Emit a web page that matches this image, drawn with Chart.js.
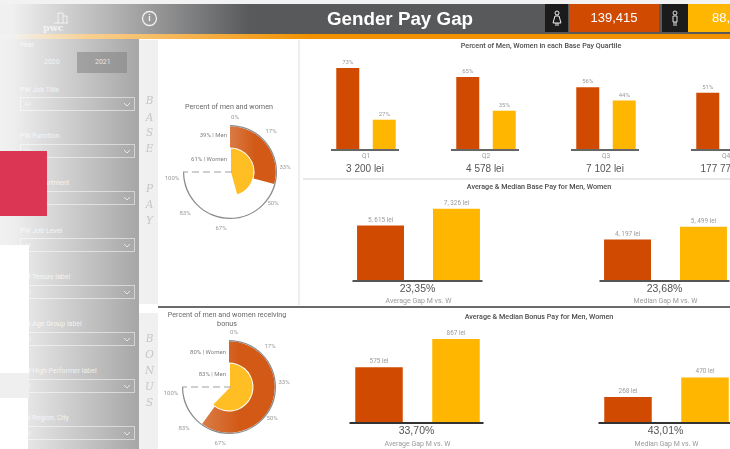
<!DOCTYPE html>
<html>
<head>
<meta charset="utf-8">
<script src="https://cdn.jsdelivr.net/npm/chart.js@4"></script>
<style>
html, body { margin: 0; padding: 0; background: #fff; }
#page { position: absolute; left: 0; top: 0; width: 730px; height: 449px; overflow: hidden; filter: blur(0.6px); font-family: Roboto, sans-serif; }
#page div { position: absolute; white-space: nowrap; }
#page canvas { position: absolute; }
.side { color: rgba(255,255,255,.75); font-size: 7px; left: 20px; }
.drop { left: 20px; width: 113px; height: 12px; border: 1px solid rgba(255,255,255,.5); color: rgba(255,255,255,.6); font-size: 6px; line-height: 12px; text-indent: 3px; }
.drop svg { position: absolute; right: 3px; top: 4px; }
.letter { left: 140px; width: 19px; text-align: center; font: italic 10.5px "DejaVu Serif", serif; color: #c6c6c6; }
.title { color: #4a4a4a; font-weight: 500; font-size: 7.2px; text-align: center; opacity: .99; }
.pietitle { color: #666; font-size: 7.2px; text-align: center; opacity: .99; }
</style>
</head>
<body>
<div id="page">
  <div style="left:0;top:0;width:730px;height:4px;background:#f2f2f2"></div>
  <div style="left:0;top:4px;width:730px;height:30px;background:linear-gradient(90deg,#f0f0f0 0,#f0f0f0 12px,#b5b5b5 110px,#58595b 250px,#58595b 100%)"></div>
  <div style="left:0;top:34px;width:730px;height:5px;background:linear-gradient(90deg,#f2f2f2 10px,#f8cf8f 90px,#f29100 310px,#f29100 100%)"></div>
  <div style="left:0;top:39px;width:139px;height:410px;background:linear-gradient(90deg,#f1f1f1 0,#eeeeee 14px,#d6d6d6 55px,#a6a6a6 139px)"></div>

  <div id="logo" style="left:43px;top:22px;color:#f4f4f4;font:700 9.5px 'DejaVu Serif',serif">pwc</div>
  <svg style="position:absolute;left:53px;top:11px" width="17" height="13"><path d="M1 12h14M5 12V2h5v10M10 5h4v7" fill="none" stroke="rgba(255,255,255,.7)" stroke-width="1"/></svg>
  <svg style="position:absolute;left:141px;top:10px" width="17" height="17"><circle cx="8.5" cy="8.5" r="7" fill="none" stroke="#f2f2f2" stroke-width="1.3"/></svg>
  <div style="left:141px;top:10px;width:17px;text-align:center;color:#f2f2f2;font:700 9px/17px 'Liberation Sans',sans-serif">i</div>

  <div style="left:300px;top:4px;width:200px;text-align:center;color:#fff;font:700 18.8px/29px 'Liberation Sans',sans-serif">Gender Pay Gap</div>
  <div style="left:545px;top:4px;width:23px;height:28px;background:#1b1b1b"></div>
  <div style="left:569px;top:4px;width:90px;height:28px;background:#d04a02;color:#fff;text-align:center;font:13px/28px 'Liberation Sans',sans-serif">139,415</div>
  <div style="left:662px;top:4px;width:26px;height:28px;background:#1b1b1b"></div>
  <div style="left:688px;top:4px;width:42px;height:28px;background:#ffb600;color:#fff;font:13px/28px 'Liberation Sans',sans-serif;text-indent:24px">88,</div>
  <svg style="position:absolute;left:552px;top:10px" width="10" height="17"><circle cx="5" cy="3" r="2" fill="none" stroke="#eee"/><path d="M3 6h4l2 7H1zM4 13v3M6 13v3" fill="none" stroke="#eee"/></svg>
  <svg style="position:absolute;left:670px;top:10px" width="10" height="17"><circle cx="5" cy="3" r="2" fill="none" stroke="#ddd"/><path d="M3 6h4v6H3zM4 12v4M6 12v4" fill="none" stroke="#ddd"/></svg>

  <div class="side" style="left:20px;top:41px">Year</div>
  <div style="left:77px;top:52px;width:50px;height:21px;background:rgba(130,130,130,.55)"></div>
  <div class="side" style="left:44px;top:58px">2020</div>
  <div class="side" style="left:95px;top:58px">2021</div>
  <div class="side" style="top:86px">PW Job Title</div>
  <div class="drop" style="top:97px">All<svg width="8" height="5"><path d="M1 1l3 3 3-3" fill="none" stroke="rgba(255,255,255,.7)"/></svg></div>
  <div class="side" style="top:132px">PW Function</div>
  <div class="drop" style="top:144px">All<svg width="8" height="5"><path d="M1 1l3 3 3-3" fill="none" stroke="rgba(255,255,255,.7)"/></svg></div>
  <div class="side" style="top:179px">PW Department</div>
  <div class="drop" style="top:191px">All<svg width="8" height="5"><path d="M1 1l3 3 3-3" fill="none" stroke="rgba(255,255,255,.7)"/></svg></div>
  <div class="side" style="top:227px">PW Job Level</div>
  <div class="drop" style="top:238px">All<svg width="8" height="5"><path d="M1 1l3 3 3-3" fill="none" stroke="rgba(255,255,255,.7)"/></svg></div>
  <div class="side" style="top:273px">PW Tenure label</div>
  <div class="drop" style="top:285px">All<svg width="8" height="5"><path d="M1 1l3 3 3-3" fill="none" stroke="rgba(255,255,255,.7)"/></svg></div>
  <div class="side" style="top:320px">PW Age Group label</div>
  <div class="drop" style="top:332px">All<svg width="8" height="5"><path d="M1 1l3 3 3-3" fill="none" stroke="rgba(255,255,255,.7)"/></svg></div>
  <div class="side" style="top:367px">PW High Performer label</div>
  <div class="drop" style="top:379px">All<svg width="8" height="5"><path d="M1 1l3 3 3-3" fill="none" stroke="rgba(255,255,255,.7)"/></svg></div>
  <div class="side" style="top:414px">PW Region, City</div>
  <div class="drop" style="top:426px">All<svg width="8" height="5"><path d="M1 1l3 3 3-3" fill="none" stroke="rgba(255,255,255,.7)"/></svg></div>

  <div style="left:0;top:151px;width:47px;height:65px;background:#db3654"></div>
  <div style="left:0;top:245px;width:29px;height:128px;background:#fff"></div>
  <div style="left:0;top:373px;width:29px;height:25px;background:#efefef"></div>
  <div style="left:0;top:398px;width:28px;height:51px;background:#fff"></div>

  <div style="left:139px;top:40px;width:19px;height:264px;background:#f0f0f0"></div>
  <div style="left:139px;top:313px;width:19px;height:136px;background:#f0f0f0"></div>
  <div style="left:298px;top:40px;width:2px;height:265px;background:#eeeeee"></div>
  <div style="left:303px;top:178px;width:427px;height:2px;background:#e8e8e8"></div>
  <div style="left:158px;top:306px;width:572px;height:2px;background:#6b6b6b"></div>

  <div class="letter" style="top:94px">B</div>
  <div class="letter" style="top:111px">A</div>
  <div class="letter" style="top:126px">S</div>
  <div class="letter" style="top:142px">E</div>
  <div class="letter" style="top:182px">P</div>
  <div class="letter" style="top:198px">A</div>
  <div class="letter" style="top:214px">Y</div>
  <div class="letter" style="top:332px">B</div>
  <div class="letter" style="top:348px">O</div>
  <div class="letter" style="top:364px">N</div>
  <div class="letter" style="top:380px">U</div>
  <div class="letter" style="top:396px">S</div>

  <div class="pietitle" style="left:159px;top:102px;width:140px">Percent of men and women</div>
  <div class="pietitle" style="left:159px;top:310px;width:136px">Percent of men and women receiving</div>
  <div class="pietitle" style="left:159px;top:319px;width:136px">bonus</div>
  <div class="title" style="left:400px;top:41px;width:282px">Percent of Men, Women in each Base Pay Quartile</div>
  <div class="title" style="left:400px;top:182px;width:278px">Average &amp; Median Base Pay for Men, Women</div>
  <div class="title" style="left:400px;top:312px;width:278px">Average &amp; Median Bonus Pay for Men, Women</div>

  <canvas id="quartileChart" width="480" height="131" style="left:306px;top:49px"></canvas>
  <canvas id="baseChart" width="494" height="109" style="left:295px;top:200px"></canvas>
  <canvas id="bonusChart" width="498" height="124" style="left:293px;top:326px"></canvas>
  <canvas id="basePie" width="150" height="150" style="left:155px;top:97px"></canvas>
  <canvas id="bonusPie" width="150" height="150" style="left:154px;top:312px"></canvas>
</div>

<script>
const quartiles = ["Q1", "Q2", "Q3", "Q4"];
const quartileMen = [73, 65, 56, 51];
const quartileWomen = [27, 35, 44, 49];
const quartilePay = ["3 200 lei", "4 578 lei", "7 102 lei", "177 774 lei"];

const gapLabels = ["Average Gap M vs. W", "Median Gap M vs. W"];
const baseMen = [5615, 4197];
const baseWomen = [7326, 5499];
const baseGaps = ["23,35%", "23,68%"];
const bonusMen = [575, 268];
const bonusWomen = [867, 470];
const bonusGaps = ["33,70%", "43,01%"];

const pieTicks = ["0%", "17%", "33%", "50%", "67%", "83%", "100%"];
const basePieOuter = 39;
const basePieInner = 61;
const bonusPieOuter = 80;
const bonusPieInner = 83;

const orange = "#d04a02";
const yellow = "#ffb600";

function thousands(v) {
    return Math.floor(v / 1000) + ", " + String(v % 1000).padStart(3, "0") + " lei";
}

// labels over the bars, the line under each group and the text under the axis
const barExtras = {
    id: "barExtras",
    afterDatasetsDraw(chart, args, o) {
        const c = chart.ctx;
        const base = chart.chartArea.bottom;
        c.save();
        c.textAlign = "center";
        c.textBaseline = "alphabetic";
        c.font = o.labelSize + "px Roboto";
        c.fillStyle = "#9a9a9a";
        chart.data.datasets.forEach((ds, d) => {
            chart.getDatasetMeta(d).data.forEach((bar, i) => {
                c.fillText(o.format(ds.data[i]), bar.x, bar.y - 4);
            });
        });
        c.font = o.underFont;
        chart.data.labels.forEach((l, i) => {
            const x = chart.scales.x.getPixelForValue(i);
            c.strokeStyle = o.lineColor;
            c.lineWidth = 2;
            c.beginPath();
            c.moveTo(x - o.lineHalf - 1, base);
            c.lineTo(x + o.lineHalf - 1, base);
            c.stroke();
            c.fillStyle = "#555";
            c.fillText(o.under[i], x - 1, base + o.underY);
        });
        c.restore();
    },
};

function barChart(id, labels, men, women, o) {
    return new Chart(document.getElementById(id), {
        type: "bar",
        data: {
            labels: labels,
            datasets: [
                { data: men, backgroundColor: orange },
                { data: women, backgroundColor: yellow },
            ],
        },
        plugins: [barExtras],
        options: {
            responsive: false,
            animation: false,
            devicePixelRatio: 1,
            datasets: { bar: { categoryPercentage: o.cat, barPercentage: o.bar } },
            plugins: {
                legend: { display: false },
                tooltip: { enabled: false },
                barExtras: o,
            },
            scales: {
                y: { display: false, min: 0, max: o.max },
                x: {
                    grid: { display: false, drawTicks: false },
                    border: { display: false },
                    afterFit: (s) => { s.height = o.axisHeight; },
                    ticks: {
                        autoSkip: false,
                        maxRotation: 0,
                        padding: o.tickPad,
                        color: "#9a9a9a",
                        font: { family: "Roboto", size: o.tickSize },
                    },
                },
            },
        },
    });
}

barChart("quartileChart", quartiles, quartileMen, quartileWomen, {
    cat: 0.608, bar: 0.63, max: 90, axisHeight: 30, tickPad: 2, tickSize: 6.6, labelSize: 6,
    format: (v) => v + "%", under: quartilePay, underY: 22,
    underFont: "10px 'Liberation Sans'", lineHalf: 34, lineColor: "#666",
});
barChart("baseChart", gapLabels, baseMen, baseWomen, {
    cat: 0.615, bar: 0.618, max: 8200, axisHeight: 28, tickPad: 16, tickSize: 7, labelSize: 6.4,
    format: thousands, under: baseGaps, underY: 11,
    underFont: "10.5px 'Liberation Sans'", lineHalf: 65, lineColor: "#555",
});
barChart("bonusChart", gapLabels, bonusMen, bonusWomen, {
    cat: 0.6185, bar: 0.617, max: 1000, axisHeight: 27, tickPad: 17, tickSize: 7, labelSize: 6.4,
    format: (v) => v + " lei", under: bonusGaps, underY: 11,
    underFont: "10.5px 'Liberation Sans'", lineHalf: 67, lineColor: "#333",
});

// where the scale labels sit around the gauge centre
const tickSpots = [[5, -55], [41, -41], [55, -5], [43, 31], [-9, 56], [-45, 41], [-58, 6]];

const gaugeExtras = {
    id: "gaugeExtras",
    afterDatasetsDraw(chart, args, o) {
        const c = chart.ctx;
        const a = chart.chartArea;
        const cx = (a.left + a.right) / 2;
        const cy = (a.top + a.bottom) / 2;
        c.save();
        c.strokeStyle = "#a0a0a0";
        c.lineWidth = 1.2;
        c.setLineDash([7, 4]);
        c.beginPath();
        c.moveTo(cx + 2, cy);
        c.lineTo(cx - 47, cy);
        c.stroke();
        c.setLineDash([]);
        c.font = "6px Roboto";
        c.fillStyle = "#9a9a9a";
        c.textAlign = "center";
        c.textBaseline = "middle";
        pieTicks.forEach((t, i) => {
            c.fillText(t, cx + tickSpots[i][0], cy + tickSpots[i][1]);
        });
        c.textAlign = "right";
        c.fillStyle = "#808080";
        c.fillText(o.outerText, cx - 3, cy - o.outerY);
        c.fillText(o.innerText, cx - 3, cy - o.innerY);
        c.restore();
    },
};

function orangeFill(ctx, fromX, toX) {
    const g = ctx.chart.ctx.createLinearGradient(fromX, 0, toX, 0);
    g.addColorStop(0, "#d97a45");
    g.addColorStop(1, "#d25a16");
    return g;
}

function gauge(id, outer, inner, o) {
    return new Chart(document.getElementById(id), {
        type: "doughnut",
        data: {
            datasets: [
                { data: [100], backgroundColor: ["#8a8a8a"], borderWidth: 0, weight: 1.2 },
                {
                    data: [outer, 100 - outer],
                    backgroundColor: (ctx) => ctx.dataIndex === 0 ? orangeFill(ctx, o.fromX, o.toX) : "rgba(0,0,0,0)",
                    borderWidth: 0,
                    weight: 21.3,
                },
                {
                    data: [inner, 100 - inner],
                    backgroundColor: ["#ffbe23", "rgba(0,0,0,0)"],
                    borderColor: "#fff",
                    borderWidth: [2, 0],
                    weight: 24.5,
                },
            ],
        },
        plugins: [gaugeExtras],
        options: {
            responsive: false,
            animation: false,
            devicePixelRatio: 1,
            rotation: 0,
            circumference: 270,
            cutout: 0,
            layout: { padding: 28 },
            plugins: {
                legend: { display: false },
                tooltip: { enabled: false },
                gaugeExtras: o,
            },
        },
    });
}

gauge("basePie", basePieOuter, basePieInner, {
    outerText: basePieOuter + "% | Men", innerText: basePieInner + "% | Women",
    outerY: 37, innerY: 13, fromX: 75, toX: 100,
});
gauge("bonusPie", bonusPieOuter, bonusPieInner, {
    outerText: bonusPieOuter + "% | Women", innerText: bonusPieInner + "% | Men",
    outerY: 35, innerY: 13, fromX: 50, toX: 85,
});
</script>
</body>
</html>
